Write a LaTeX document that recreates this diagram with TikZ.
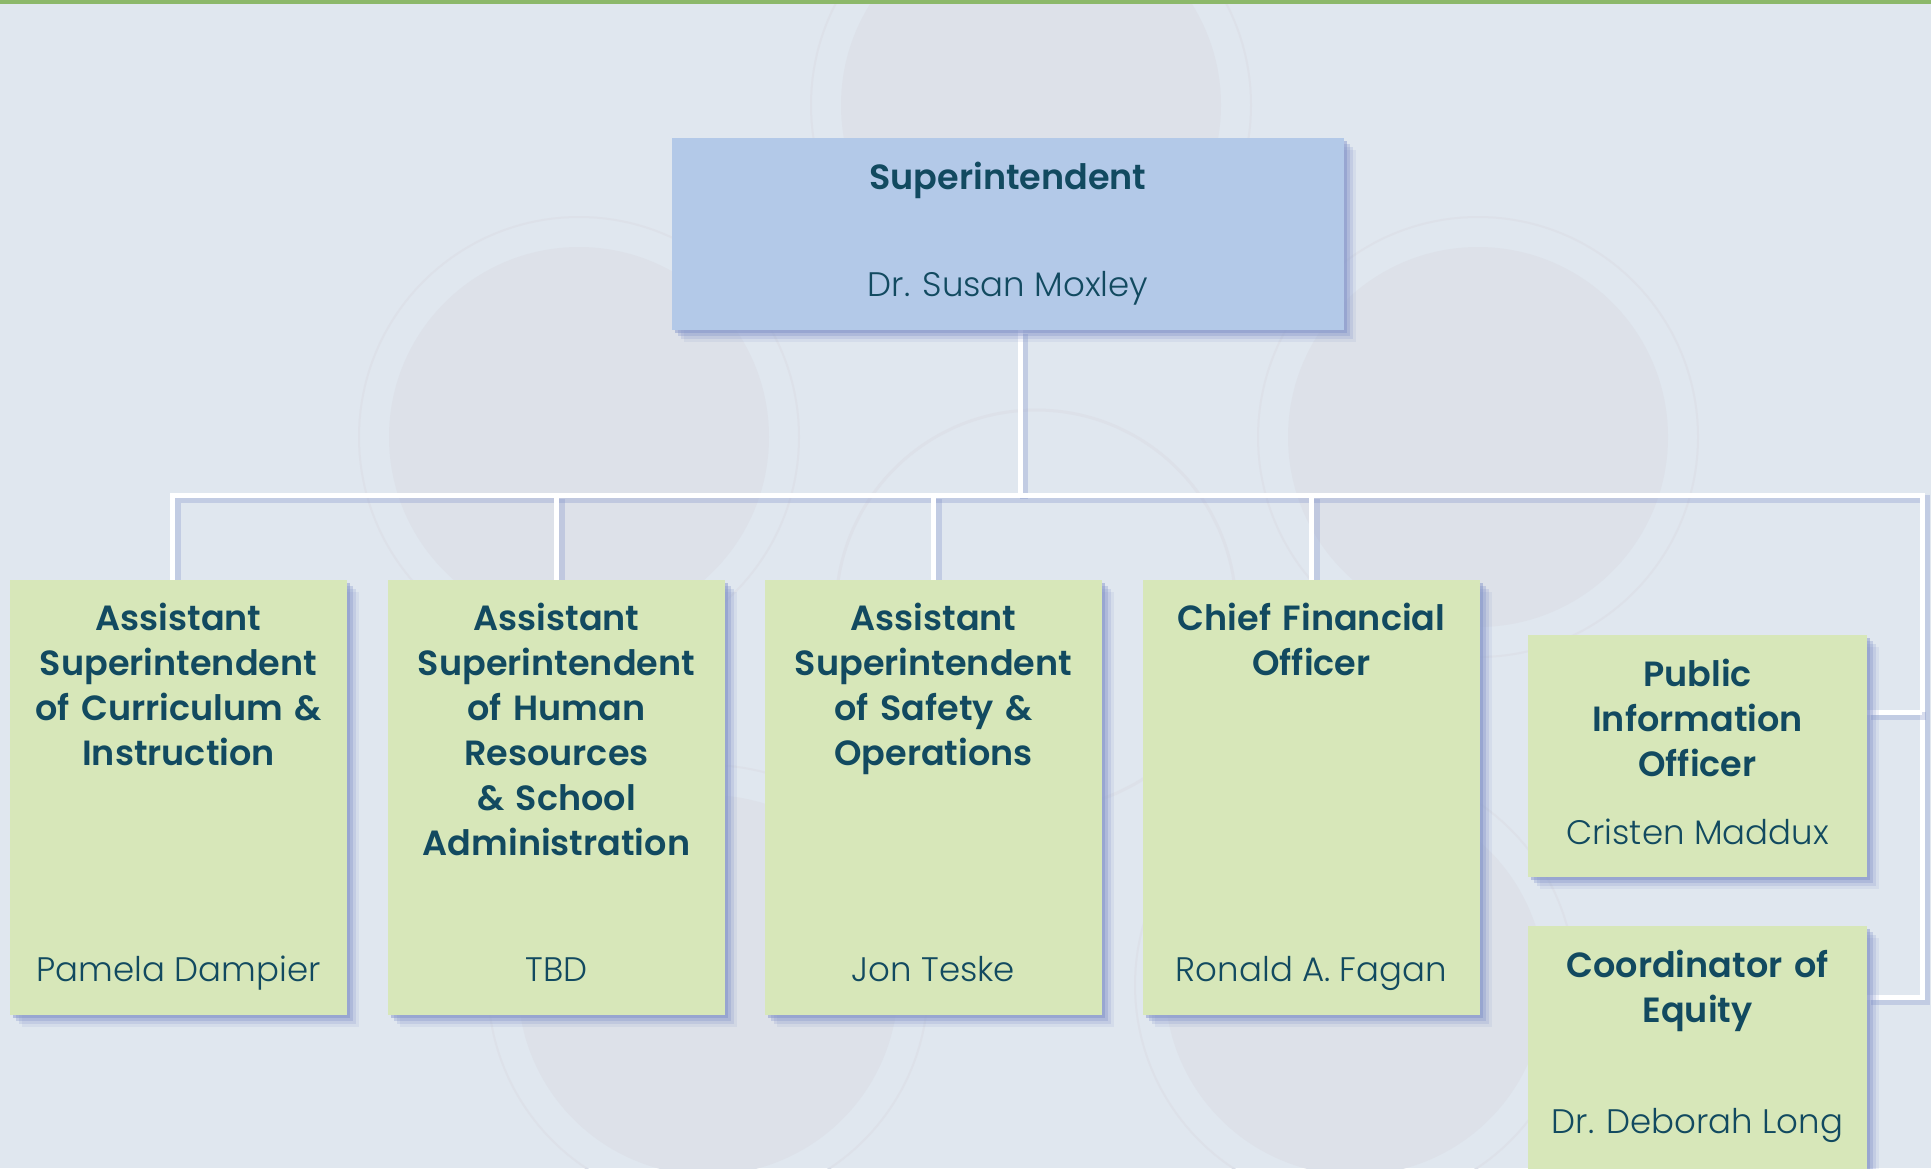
\documentclass[tikz,border=0pt]{standalone}
\usepackage{fontspec}
\setmainfont{Poppins}[BoldFont={Poppins SemiBold}]
\newfontfamily\lightfam{Poppins Light}
\usetikzlibrary{positioning,shadows,backgrounds}
\definecolor{pagebg}{HTML}{E0E7EF}
\definecolor{topgreen}{HTML}{8CB86A}
\definecolor{supblue}{HTML}{B3C9E8}
\definecolor{leafgreen}{HTML}{D7E7B9}
\definecolor{inkteal}{HTML}{124A60}
\definecolor{shadowblue}{HTML}{7F90C8}
\definecolor{wmark}{HTML}{DDE1E9}
\newcommand\ttlfont{\fontsize{17.5}{22.5}\selectfont\bfseries}
\newcommand\namefont{\fontsize{17}{22.5}\selectfont\lightfam}
\begin{document}
\begin{tikzpicture}[x=0.5pt,y=-0.5pt,
	post/.style={rectangle, inner sep=0,
		drop shadow={shadow xshift=6pt, shadow yshift=-6pt, fill=shadowblue, opacity=.12},
		drop shadow={shadow xshift=4.5pt, shadow yshift=-4.5pt, fill=shadowblue, opacity=.2},
		drop shadow={shadow xshift=3pt, shadow yshift=-3pt, fill=shadowblue, opacity=.3},
		drop shadow={shadow xshift=1.5pt, shadow yshift=-1.5pt, fill=shadowblue, opacity=.45}},
	supbox/.style={post, fill=supblue, minimum width=336pt, minimum height=96pt},
	leaf/.style={post, fill=leafgreen, minimum width=168.5pt, minimum height=217.5pt},
	sidebox/.style={post, fill=leafgreen, minimum width=169.5pt},
	ttl/.style={text=inkteal, font=\ttlfont, align=center, text width=168pt, inner sep=0, anchor=base},
	who/.style={text=inkteal, font=\namefont, inner sep=0, anchor=base},
	link/.style={draw=white, line width=2.5pt, preaction={draw=shadowblue, draw opacity=.3, line width=4pt, transform canvas={shift={(2pt,-2pt)}}}}]
	\useasboundingbox (0,0) rectangle (1931,1168);
	\node[supbox] (sup) at (1008,234) {};
	\node[ttl] at (1008,189) {Superintendent};
	\node[who] at (1008,296) {Dr. Susan Moxley};
	\foreach \x/\nm [count=\i] in {178.5/Pamela Dampier,556.5/TBD,933.5/Jon Teske,1311.5/Ronald A. Fagan}{
		\node[leaf] (a\i) at (\x,797.5) {};
		\node[who] at (\x,981) {\nm};
	}
	\node[ttl] at (a1.north |- 0,630) {Assistant\\Superintendent\\of Curriculum \&\\Instruction};
	\node[ttl] at (a2.north |- 0,630) {Assistant\\Superintendent\\of Human\\Resources\\\& School\\Administration};
	\node[ttl] at (a3.north |- 0,630) {Assistant\\Superintendent\\of Safety \&\\Operations};
	\node[ttl] at (a4.north |- 0,630) {Chief Financial\\Officer};
	\node[sidebox, minimum height=121pt] (pio) at (1697.5,756) {};
	\node[ttl] at (1697.5,686) {Public\\Information\\Officer};
	\node[who] at (1697.5,844) {Cristen Maddux};
	\node[sidebox, minimum height=127pt] (eq) at (1697.5,1053) {};
	\node[ttl] at (1697.5,977) {Coordinator of\\Equity};
	\node[who] at (1697.5,1133) {Dr. Deborah Long};
	\begin{scope}[on background layer]
		\fill[pagebg] (0,0) rectangle (1931,1168);
		\foreach \cx/\cy in {1031/105,579/437,1478/437,708/985,1355/985}{
			\fill[wmark] (\cx,\cy) circle (190);
			\draw[wmark, line width=1pt] (\cx,\cy) circle (220);
		}
		\draw[wmark, line width=1.5pt] (1036,610) circle (200);
		\fill[topgreen] (0,0) rectangle (1931,4);
		\path (1020,495) coordinate (bus) (1922,495) coordinate (rt)
			(1922,712) coordinate (r1) (1922,997) coordinate (r2);
		\draw[link] (sup.south -| bus) -- (bus);
		\draw[link] ([xshift=-3pt]a1.north) -- ([xshift=-3pt]a1.north |- bus) -- (rt) -- (r2) -- (r2 -| eq.east);
		\foreach \i in {2,3,4}{
			\draw[link] (a\i.north |- bus) -- (a\i.north);
		}
		\draw[link] (r1) -- (r1 -| pio.east);
	\end{scope}
\end{tikzpicture}
\end{document}
